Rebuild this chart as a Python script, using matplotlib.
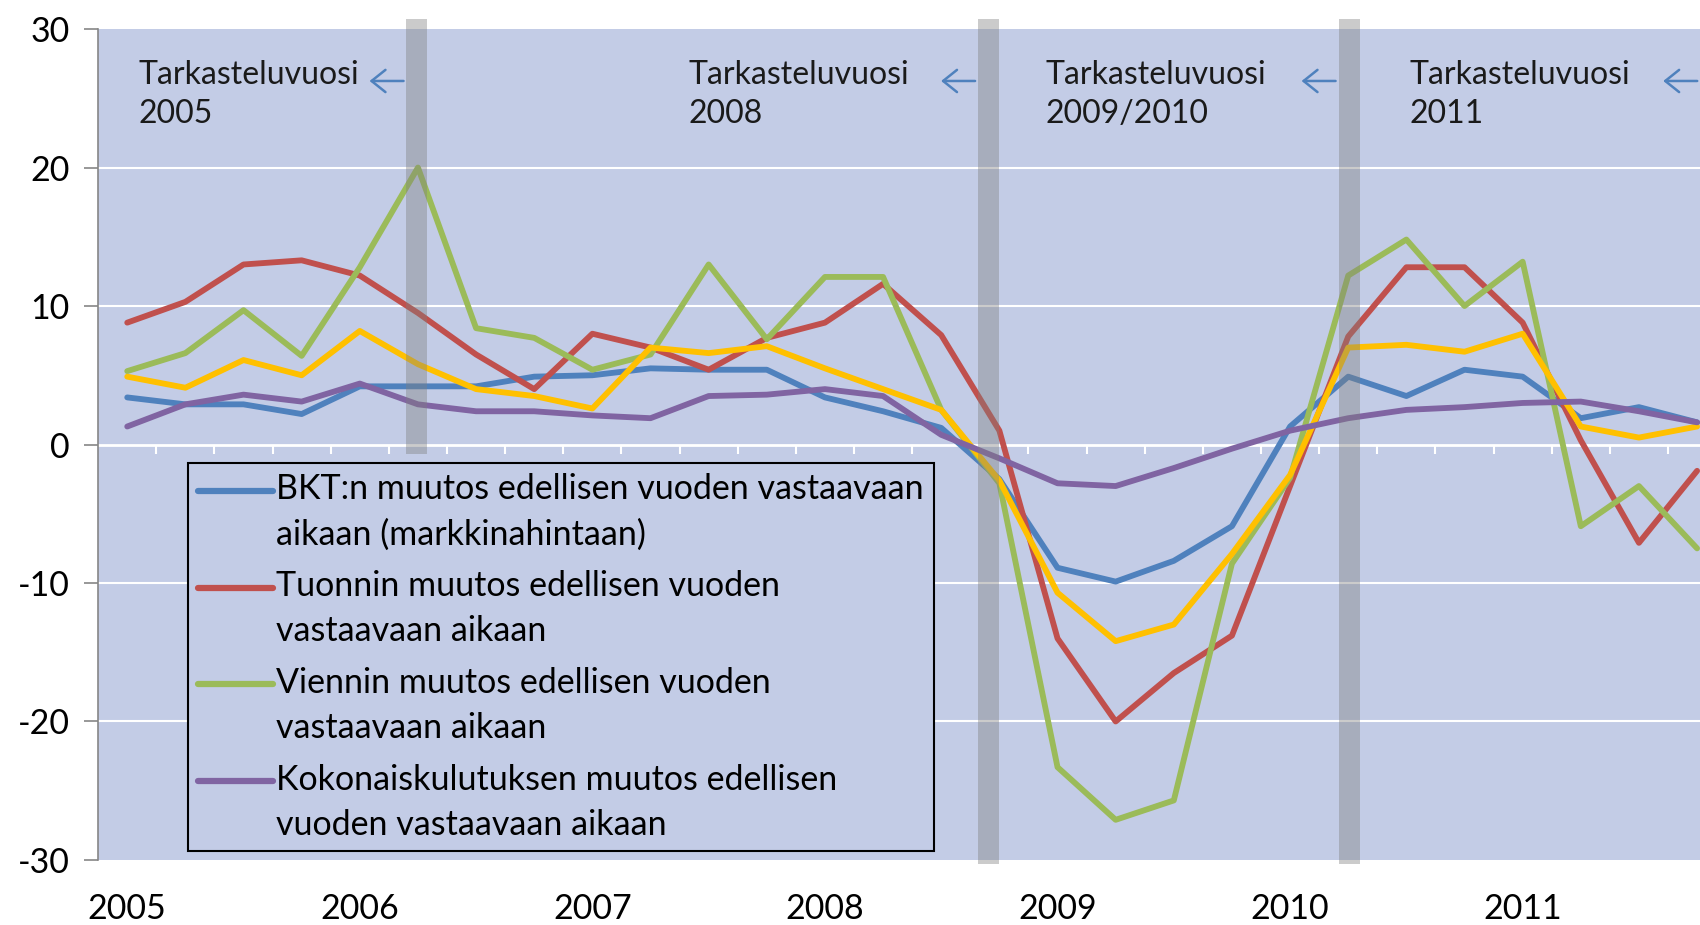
import numpy as np
import matplotlib.pyplot as plt

plt.rcParams['font.family'] = ['Lato', 'DejaVu Sans']

# quarterly data 2005Q1 - 2011Q4
years = ['2005', '2006', '2007', '2008', '2009', '2010', '2011']

bkt = [3.4, 2.9, 2.9, 2.2, 4.2, 4.2, 4.2, 4.9, 5.0, 5.5, 5.4, 5.4, 3.4, 2.4,
       1.2, -2.5, -8.9, -9.9, -8.4, -5.9, 1.3, 4.9, 3.5, 5.4, 4.9, 1.9, 2.7, 1.6]
tuonti = [8.8, 10.3, 13.0, 13.3, 12.2, 9.5, 6.5, 4.0, 8.0, 7.0, 5.4, 7.7, 8.8, 11.6,
          7.9, 1.0, -14.0, -20.0, -16.5, -13.8, -3.0, 7.8, 12.8, 12.8, 8.8, 0.3, -7.1, -1.9]
vienti = [5.3, 6.6, 9.7, 6.4, 12.8, 20.0, 8.4, 7.7, 5.4, 6.5, 13.0, 7.6, 12.1, 12.1,
          2.5, -2.8, -23.3, -27.1, -25.7, -8.6, -2.4, 12.2, 14.8, 10.0, 13.2, -5.9, -3.0, -7.5]
keltainen = [4.9, 4.1, 6.1, 5.0, 8.2, 5.8, 4.0, 3.5, 2.6, 7.0, 6.6, 7.1, 5.5, 4.0,
             2.5, -2.6, -10.7, -14.2, -13.0, -7.9, -2.2, 7.0, 7.2, 6.7, 8.0, 1.3, 0.5, 1.3]
kulutus = [1.3, 2.9, 3.6, 3.1, 4.4, 2.9, 2.4, 2.4, 2.1, 1.9, 3.5, 3.6, 4.0, 3.5,
           0.7, -1.0, -2.8, -3.0, -1.7, -0.3, 1.0, 1.9, 2.5, 2.7, 3.0, 3.1, 2.4, 1.6]

labels = ['BKT:n muutos edellisen vuoden vastaavaan\naikaan (markkinahintaan)',
          'Tuonnin muutos edellisen vuoden\nvastaavaan aikaan',
          'Viennin muutos edellisen vuoden\nvastaavaan aikaan',
          'Kokonaiskulutuksen muutos edellisen\nvuoden vastaavaan aikaan']

# review-year markers
band_pos = [4.98, 14.82, 21.02]
band_bottom = [-0.7, -30.3, -30.3]
notes = ['Tarkasteluvuosi\n2005', 'Tarkasteluvuosi\n2008',
         'Tarkasteluvuosi\n2009/2010', 'Tarkasteluvuosi\n2011']
note_x = [0.2, 9.65, 15.8, 22.05]
arrow_end = [4.8, 14.63, 20.83, 27.05]

bg = '#C3CCE6'
fs = 24.5

fig = plt.figure(figsize=(17, 9.25), dpi=100)
ax = fig.add_axes([0.0574, 0.0703, 0.9426, 0.8983])
ax.set_facecolor(bg)

x = np.arange(len(bkt))
ax.set_xlim(-0.51, 27.05)
ax.set_ylim(-30, 30)

for y in [-20, -10, 10, 20]:
    ax.axhline(y, color='white', lw=1.5, zorder=1)
ax.axhline(0, color='white', lw=2.0, zorder=1)
ax.vlines(np.arange(0.5, 27, 1), -0.7, 0, colors='white', lw=1.5, zorder=1)

kw = dict(lw=4.2, zorder=3, solid_capstyle='round', solid_joinstyle='round')
ax.plot(x, bkt, color='#4F81BD', label=labels[0], **kw)
ax.plot(x, tuonti, color='#C0504D', label=labels[1], **kw)
ax.plot(x, vienti, color='#9BBB59', label=labels[2], **kw)
ax.plot(x, keltainen, color='#FFC000', **kw)
ax.plot(x, kulutus, color='#8064A2', label=labels[3], **kw)

for bx, bb in zip(band_pos, band_bottom):
    ax.bar(bx, 30.7 - bb, bottom=bb, width=0.36, color='#7F7F7F', alpha=0.4,
           clip_on=False, zorder=4, linewidth=0)

for tx, t in zip(note_x, notes):
    ax.text(tx, 27.75, t, fontsize=23, va='top', ha='left', color='#1a1a1a',
            linespacing=1.35, zorder=5)
for ae in arrow_end:
    ax.annotate('', xy=(ae - 0.68, 26.25), xytext=(ae, 26.25),
                arrowprops=dict(arrowstyle='->,head_length=1.0,head_width=0.8',
                                color='#4F81BD', lw=1.8),
                annotation_clip=False, zorder=5)

ax.set_yticks([-30, -20, -10, 0, 10, 20, 30])
ax.set_yticklabels(['-30', '-20', '-10', '0', '10', '20', '30'])
ax.tick_params(axis='y', direction='out', length=10, width=1.2, color='#868686',
               labelsize=fs, pad=10)
ax.set_xticks(np.arange(0, 28, 4))
ax.set_xticklabels(years)
ax.tick_params(axis='x', length=0, labelsize=fs, pad=24)

for s in ['top', 'right', 'bottom']:
    ax.spines[s].set_visible(False)
ax.spines['left'].set_color('#868686')
ax.spines['left'].set_linewidth(1.2)

leg = ax.legend(loc='upper left', bbox_to_anchor=(0.0564, 0.4777), borderaxespad=0,
                fontsize=fs, frameon=True, fancybox=False, handlelength=2.2,
                handletextpad=0.1, labelspacing=0.58, borderpad=0.3,
                facecolor=bg, edgecolor='black', framealpha=1)
leg.get_frame().set_linewidth(1.5)
leg.set_zorder(6)
for t in leg.get_texts():
    t.set_linespacing(1.5)
# handles sit next to the first text line
for h in leg.legend_handles:
    h.set_linewidth(4.5)
    h.set_solid_capstyle('round')
    h.set_ydata(np.asarray(h.get_ydata()) + 16)

fig.savefig('out.png', dpi=100)
